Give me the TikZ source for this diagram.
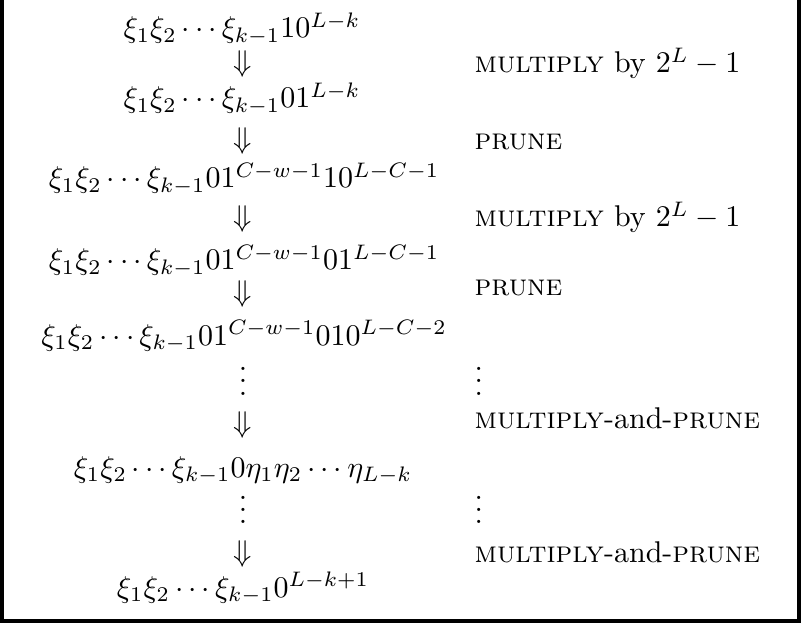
\documentclass[tikz,border=0pt]{standalone}
\usepackage{amsmath,amssymb}
\usetikzlibrary{positioning}
\tikzset{
  word/.style={anchor=base,inner sep=0pt},
  implies/.style={anchor=base,inner sep=0pt},
  dots/.style={anchor=base,inner sep=0pt,text height=9pt,text depth=0pt},
  oplabel/.style={anchor=base west,inner sep=0pt},
  frame/.style={draw=black,line width=1.3pt}
}
\begin{document}
\begin{tikzpicture}[x=0.3333pt,y=-0.3333pt]
  \useasboundingbox (0,0) rectangle (801,625);
  % left column: the words
  \node[word] (w1) at (242,38) {$\xi_1\xi_2\cdots\xi_{k-1}10^{L-k}$};
  \node[implies] (d1) at (243,72) {$\Downarrow$};
  \node[word] (w2) at (242,108) {$\xi_1\xi_2\cdots\xi_{k-1}01^{L-k}$};
  \node[implies] (d2) at (243,149) {$\Downarrow$};
  \node[word] (w3) at (244,188) {$\xi_1\xi_2\cdots\xi_{k-1}01^{C-w-1}10^{L-C-1}$};
  \node[implies] (d3) at (243,227) {$\Downarrow$};
  \node[word] (w4) at (244,270) {$\xi_1\xi_2\cdots\xi_{k-1}01^{C-w-1}01^{L-C-1}$};
  \node[implies] (d4) at (243,302) {$\Downarrow$};
  \node[word] (w5) at (244,345) {$\xi_1\xi_2\cdots\xi_{k-1}01^{C-w-1}010^{L-C-2}$};
  \node[dots] (v1) at (243,395) {$\vdots$};
  \node[implies] (d5) at (243,432) {$\Downarrow$};
  \node[word] (w6) at (243,477) {$\xi_1\xi_2\cdots\xi_{k-1}0\eta_1\eta_2\cdots\eta_{L-k}$};
  \node[dots] (v2) at (243,523) {$\vdots$};
  \node[implies] (d6) at (243,561) {$\Downarrow$};
  \node[word] (w7) at (243,597) {$\xi_1\xi_2\cdots\xi_{k-1}0^{L-k+1}$};
  % right column: the operations
  \node[oplabel] (o1) at (474,73) {\textsc{multiply} by $2^L-1$};
  \node[oplabel] (o2) at (474,150) {\textsc{prune}};
  \node[oplabel] (o3) at (474,227) {\textsc{multiply} by $2^L-1$};
  \node[oplabel] (o4) at (474,295) {\textsc{prune}};
  \node[oplabel,dots,anchor=base west] (v3) at (474,395) {$\vdots$};
  \node[oplabel] (o5) at (474,428) {\textsc{multiply}-and-\textsc{prune}};
  \node[oplabel,dots,anchor=base west] (v4) at (474,523) {$\vdots$};
  \node[oplabel] (o6) at (474,562) {\textsc{multiply}-and-\textsc{prune}};
  \draw[frame] (2,0) -- (2,621) -- (799,621) -- (799,0);
\end{tikzpicture}
\end{document}
